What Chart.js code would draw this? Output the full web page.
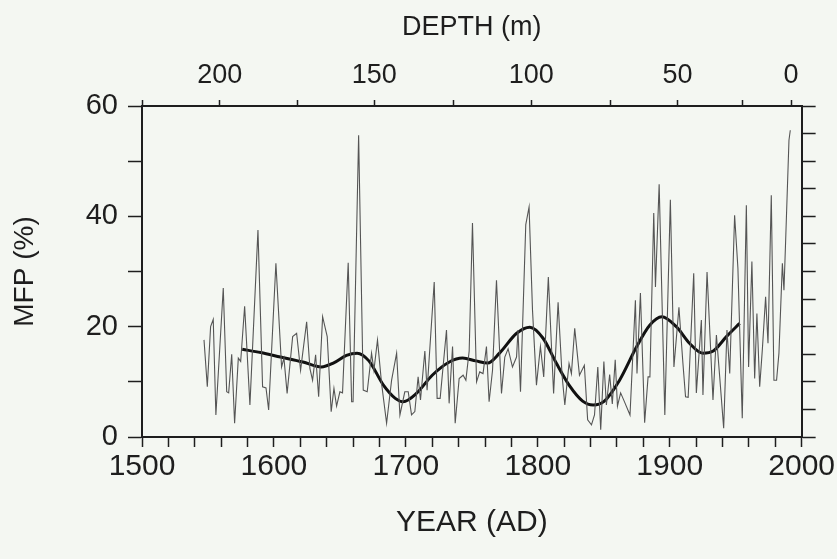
<!DOCTYPE html>
<html>
<head>
<meta charset="utf-8">
<script src="https://cdn.jsdelivr.net/npm/chart.js@4.4.1/dist/chart.umd.min.js"></script>
<style>
  body { margin: 0; background: #f4f7f2; }
  #wrap { width: 837px; height: 559px; }
</style>
</head>
<body>
<div id="wrap"><canvas id="canva" width="837" height="559"></canvas></div>
<script>
// MFP record (thin grey line)
const mfpYears = [
  1547, 1549.5, 1552, 1554, 1556, 1561.6, 1564.2, 1565.7, 1568, 1570.2,
  1573, 1574.8, 1577.8, 1581.8, 1587.9, 1591.4, 1594, 1596, 1601.5, 1605.8,
  1607.6, 1610, 1614.2, 1617.2, 1620.2, 1624.8, 1627.3, 1629.3, 1631.6, 1633.9,
  1636.9, 1640.4, 1643.4, 1645.5, 1647.5, 1650, 1652, 1656.3, 1658.9, 1660,
  1664.2, 1667.7, 1670.7, 1674, 1675.8, 1678.5, 1681.6, 1685.4, 1689.2, 1693,
  1695.5, 1699.2, 1701.8, 1704.3, 1706.8, 1709.3, 1711.1, 1714.4, 1716.1, 1721.5,
  1723.7, 1726, 1730.8, 1732.8, 1735.4, 1737.4, 1740.4, 1743.4, 1745.5, 1748,
  1750.5, 1753.6, 1756, 1758.5, 1761.1, 1763.1, 1765.7, 1768.7, 1772.5, 1775,
  1777.5, 1780.8, 1783.9, 1785, 1786.9, 1790.9, 1793.4, 1796, 1799, 1802,
  1804.5, 1808, 1812, 1815.4, 1818.4, 1820.5, 1823.7, 1825.5, 1828, 1831.6,
  1835.3, 1837.8, 1840.7, 1843, 1845.5, 1847.7, 1850.1, 1852, 1854.5, 1856.5,
  1858.7, 1860.4, 1862.8, 1865.5, 1869.9, 1874, 1875.2, 1877.8, 1881, 1883.6,
  1885, 1887.9, 1889.2, 1892, 1896.3, 1900.5, 1903.2, 1907, 1910, 1912,
  1914, 1918.2, 1920.2, 1924, 1925.2, 1928.3, 1932.8, 1935.4, 1937.9, 1940.9,
  1943.4, 1945.5, 1949.2, 1951.7, 1955, 1958.1, 1959.8, 1962.3, 1964.4, 1966.1,
  1968.2, 1970.2, 1972.7, 1974.5, 1977, 1979, 1981, 1982.8, 1985.4, 1986.6,
  1987.9, 1990.4, 1991.4
];
const mfpValues = [
  17.6, 9.1, 20.0, 21.3, 4.0, 27.0, 8.2, 8.0, 15.0, 2.5,
  14.3, 13.7, 23.7, 5.8, 37.5, 9.1, 8.9, 4.9, 31.5, 12.7,
  14.3, 7.9, 18.2, 18.8, 12.1, 20.9, 12.4, 10.3, 14.9, 7.3,
  21.8, 18.2, 4.6, 8.8, 5.6, 8.2, 8.0, 31.6, 6.4, 6.4,
  54.7, 8.5, 8.2, 15.2, 12.1, 17.6, 9.7, 2.5, 10.3, 15.2,
  4.0, 8.2, 8.2, 4.0, 4.6, 10.9, 6.7, 15.6, 8.5, 28.1,
  7.0, 7.0, 19.4, 6.1, 16.4, 2.5, 10.6, 11.2, 10.3, 15.6,
  38.8, 10.0, 11.8, 11.5, 16.4, 6.4, 12.1, 28.4, 7.9, 14.5,
  16.0, 12.7, 14.5, 19.4, 8.2, 38.5, 41.7, 23.0, 9.4, 16.4,
  10.9, 29.0, 7.9, 24.4, 11.2, 5.8, 13.3, 11.5, 19.7, 11.2,
  13.0, 3.1, 2.2, 4.0, 12.7, 1.3, 13.7, 5.8, 11.3, 6.0,
  14.0, 5.6, 8.0, 6.5, 4.0, 24.8, 11.5, 26.1, 2.6, 10.9,
  10.9, 40.6, 27.2, 45.8, 4.0, 43.0, 12.7, 23.5, 13.4, 7.3,
  7.2, 29.7, 8.0, 21.2, 7.6, 29.9, 6.7, 18.5, 10.9, 1.6,
  19.4, 11.5, 40.2, 30.6, 3.4, 42.0, 12.7, 31.8, 10.6, 22.4,
  9.1, 15.8, 25.4, 17.0, 43.8, 10.3, 10.3, 15.2, 31.5, 26.6,
  35.7, 53.8, 55.6
];

// smoothed curve (thick black line)
const smoothYears = [
  1576, 1590, 1605, 1622, 1636, 1645, 1655, 1663, 1672, 1683,
  1692, 1698, 1708, 1720, 1733, 1743, 1753, 1762, 1771, 1784,
  1794, 1804, 1814, 1824, 1834, 1842, 1850, 1862, 1875, 1885,
  1894, 1905, 1915, 1925, 1933, 1943, 1953
];
const smoothValues = [
  15.9, 15.3, 14.5, 13.6, 12.7, 13.4, 14.8, 15.2, 13.8, 9.4,
  7.0, 6.4, 7.9, 11.2, 13.6, 14.3, 13.8, 13.4, 15.2, 18.8,
  19.9, 17.9, 13.4, 9.3, 6.5, 5.8, 6.4, 10.3, 16.4, 20.3,
  21.8, 20.0, 17.0, 15.2, 15.6, 18.2, 20.6
];

// top axis: depth ticks placed on the year scale
const depthTickYears = [1500, 1559, 1618, 1676, 1736, 1795, 1855, 1906, 1955, 1992];
const depthTickLabels = ['', '200', '', '150', '', '100', '', '50', '', '0'];

const ink = '#1e1e1e';
const fam = "'Liberation Sans', Arial, sans-serif";

const ctx = document.getElementById("canva").getContext("2d");
const chart = new Chart(ctx, {
    type: 'line',
    data: {
        datasets: [{
            data: mfpYears.map((x, i) => ({ x: x, y: mfpValues[i] })),
            borderColor: '#555',
            borderWidth: 1.1,
            pointRadius: 0,
            tension: 0
        }, {
            data: smoothYears.map((x, i) => ({ x: x, y: smoothValues[i] })),
            borderColor: '#111',
            borderWidth: 3,
            pointRadius: 0,
            cubicInterpolationMode: 'monotone'
        }]
    },
    options: {
        responsive: false,
        animation: false,
        layout: { padding: 0 },
        plugins: { legend: { display: false }, tooltip: { enabled: false } },
        scales: {
            x: {
                type: 'linear',
                position: 'bottom',
                min: 1500, max: 2000,
                afterFit: s => { s.height = 122; },
                ticks: {
                    stepSize: 20, autoSkip: false, maxRotation: 0,
                    callback: v => v % 100 === 0 ? String(v) : '',
                    color: ink, font: { family: fam, size: 30 }, padding: 2
                },
                grid: { drawOnChartArea: false, tickLength: 10, color: ink, tickWidth: 1.5 },
                border: { color: ink, width: 2 },
                title: { display: true, text: 'YEAR (AD)', color: ink, font: { family: fam, size: 30 }, padding: { bottom: 18 } }
            },
            xTop: {
                type: 'linear',
                position: 'top',
                min: 1500, max: 2000,
                afterFit: s => { s.height = 106; },
                afterBuildTicks: s => { s.ticks = depthTickYears.map(v => ({ value: v })); },
                ticks: {
                    autoSkip: false, maxRotation: 0,
                    callback: (v, i) => depthTickLabels[i],
                    color: ink, font: { family: fam, size: 27 }, padding: 8
                },
                grid: { drawOnChartArea: false, tickLength: 6, color: ink, tickWidth: 1.5 },
                border: { color: ink, width: 2 },
                title: { display: true, text: 'DEPTH (m)', color: ink, font: { family: fam, size: 27 }, padding: { top: 11 } }
            },
            y: {
                position: 'left',
                min: 0, max: 60,
                afterFit: s => { s.width = 142; },
                ticks: {
                    stepSize: 5,
                    callback: v => v % 20 === 0 ? String(v) : '',
                    color: ink, font: { family: fam, size: 29 }, padding: 10
                },
                grid: { drawOnChartArea: false, tickLength: 14, color: ink, tickWidth: 1.5 },
                border: { color: ink, width: 2 },
                title: { display: true, text: 'MFP (%)', color: ink, font: { family: fam, size: 28 }, padding: { top: 8 } }
            },
            yRight: {
                position: 'right',
                min: 0, max: 60,
                afterFit: s => { s.width = 34; },
                ticks: { stepSize: 5, display: false },
                grid: { drawOnChartArea: false, tickLength: 14, color: ink, tickWidth: 1.5 },
                border: { color: ink, width: 2 }
            }
        }
    }
});
</script>
</body>
</html>
